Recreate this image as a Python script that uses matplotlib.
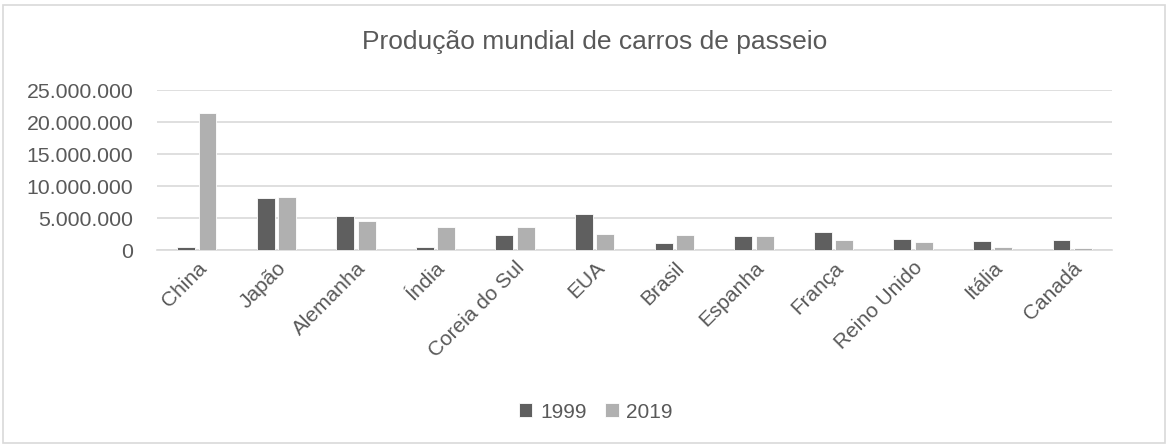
import numpy as np
import matplotlib
matplotlib.use("Agg")
import matplotlib.pyplot as plt
from matplotlib.patches import Rectangle
from matplotlib.ticker import FuncFormatter

paises = ["China", "Japão", "Alemanha", "Índia", "Coreia do Sul", "EUA",
          "Brasil", "Espanha", "França", "Reino Unido", "Itália", "Canadá"]
prod_1999 = [520000, 8070000, 5260000, 520000, 2340000, 5600000,
             1040000, 2240000, 2800000, 1780000, 1400000, 1570000]
prod_2019 = [21350000, 8280000, 4600000, 3650000, 3600000, 2450000,
             2400000, 2180000, 1620000, 1300000, 470000, 360000]

cor_txt = "#595959"
cor_grid = "#d9d9d9"
plt.rcParams["font.family"] = ["Liberation Sans", "DejaVu Sans"]

fig = plt.figure(figsize=(11.68, 4.45), dpi=100)
ax = fig.add_axes([157 / 1168, 1 - 250 / 445, (1112 - 157) / 1168, 160 / 445])

x = np.arange(len(paises))
w = 0.225
b1 = ax.bar(x - 0.135, prod_1999, w, color="#5f5f5f", edgecolor="white", linewidth=0.6, label="1999", zorder=3)
b2 = ax.bar(x + 0.135, prod_2019, w, color="#b0b0b0", edgecolor="white", linewidth=0.6, label="2019", zorder=3)

ax.set_xlim(-0.5, len(paises) - 0.5)
ax.set_ylim(0, 25000000)
ax.set_yticks(np.arange(0, 25000001, 5000000))
ax.yaxis.set_major_formatter(FuncFormatter(lambda v, p: f"{int(v):,}".replace(",", ".")))
ax.grid(axis="y", color=cor_grid, linewidth=1.2, zorder=0)
for s in ["top", "right", "left"]:
    ax.spines[s].set_visible(False)
ax.spines["bottom"].set_color(cor_grid)
ax.spines["bottom"].set_linewidth(1.2)
ax.tick_params(axis="y", length=0, pad=17, labelsize=15.3, labelcolor=cor_txt)
ax.tick_params(axis="x", length=0, pad=6, labelsize=15, labelcolor=cor_txt)
ax.set_xticks(x)
ax.set_xticklabels(paises, rotation=45, ha="right", rotation_mode="anchor")

fig.text(595 / 1168, 1 - 42 / 445, "Produção mundial de carros de passeio", ha="center", va="center",
         fontsize=19, color=cor_txt)

fig.legend(handles=[b1, b2], labels=["1999", "2019"], loc="center", bbox_to_anchor=(596 / 1168, 1 - 412 / 445),
           ncol=2, frameon=False, fontsize=15, labelcolor=cor_txt, handlelength=0.63, handleheight=0.63,
           handletextpad=0.38, columnspacing=0.9)

fig.patches.append(Rectangle((3 / 1168, 2 / 445), 1 - 6 / 1168, 1 - 7 / 445, transform=fig.transFigure,
                             fill=False, edgecolor=cor_grid, linewidth=1.2))

fig.savefig("out.png", dpi=100)
